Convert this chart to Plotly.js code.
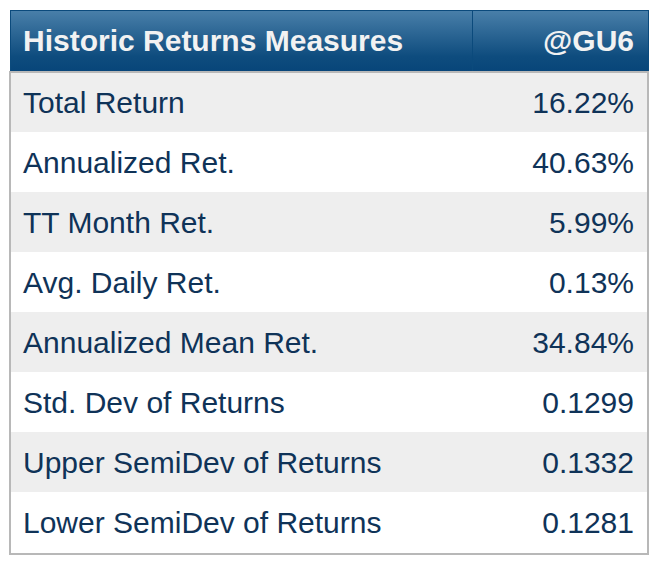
<!DOCTYPE html>
<html>
<head>
<meta charset="utf-8">
<script src="https://cdn.plot.ly/plotly-3.0.1.min.js"></script>
<style>
  html, body { margin: 0; padding: 0; background: #fff; }
  #table { width: 656px; height: 566px; }
</style>
</head>
<body>
<div id="table"></div>
<script>
// header labels
var headers = ["Historic Returns Measures", "@GU6"];

// measure names and values for @GU6
var measures = [
    "Total Return",
    "Annualized Ret.",
    "TT Month Ret.",
    "Avg. Daily Ret.",
    "Annualized Mean Ret.",
    "Std. Dev of Returns",
    "Upper SemiDev of Returns",
    "Lower SemiDev of Returns"
];
var values = ["16.22%", "40.63%", "5.99%", "0.13%", "34.84%", "0.1299", "0.1332", "0.1281"];

// alternating row fills
var rowFill = measures.map((m, i) => i % 2 == 0 ? "#eeeeee" : "#ffffff");
var blank = measures.map(() => "");

// plot area is 638 x 556 px (after margins)
var W = 638, H = 556;
var headH = 62, rowH = 60;

// gradient for the header band
var gradSvg = '<svg xmlns="http://www.w3.org/2000/svg" width="10" height="10" preserveAspectRatio="none">' +
    '<defs><linearGradient id="g" x1="0" y1="0" x2="0" y2="1">' +
    '<stop offset="0" stop-color="#4a80aa"/><stop offset="0.75" stop-color="#0e4c7e"/><stop offset="1" stop-color="#074579"/>' +
    '</linearGradient></defs><rect width="10" height="10" fill="url(#g)"/></svg>';

var font = "Liberation Sans, Arial";

// background stripes + header separator
var stripes = {
    type: "table",
    domain: { x: [0, 1], y: [0, 1] },
    columnwidth: [462, 176],
    header: {
        values: ["", ""],
        height: headH,
        fill: { color: "rgba(0,0,0,0)" },
        line: { color: "#0b4a7c", width: 1 }
    },
    cells: {
        values: [blank, blank],
        height: rowH,
        fill: { color: [rowFill, rowFill] },
        line: { width: 0, color: "rgba(0,0,0,0)" }
    }
};

// text layer, nudged so the labels sit centred in their rows
var labels = {
    type: "table",
    domain: { x: [5 / W, 1 - 6 / W], y: [0, 1 - 6 / H] },
    columnwidth: [462, 176],
    header: {
        values: headers.map(h => "<b>" + h + "</b>"),
        align: ["left", "right"],
        height: headH + 4,
        fill: { color: "rgba(0,0,0,0)" },
        line: { width: 0, color: "rgba(0,0,0,0)" },
        font: { family: font, size: 30, color: "#f2f2f2" }
    },
    cells: {
        values: [measures, values],
        align: ["left", "right"],
        height: rowH,
        fill: { color: "rgba(0,0,0,0)" },
        line: { width: 0, color: "rgba(0,0,0,0)" },
        font: { family: font, size: 30, color: "#0f3358" }
    }
};

var layout = {
    width: 656,
    height: 566,
    margin: { t: 10, b: 0, l: 10, r: 8 },
    paper_bgcolor: "#ffffff",
    images: [{
        source: "data:image/svg+xml;charset=utf-8," + encodeURIComponent(gradSvg),
        xref: "paper", yref: "paper",
        x: 0, y: 1,
        sizex: 1, sizey: headH / H,
        xanchor: "left", yanchor: "top",
        sizing: "stretch",
        layer: "below"
    }],
    shapes: [{
        type: "rect",
        xref: "paper", yref: "paper",
        x0: 0, x1: 1,
        y0: 1 - (headH + 8 * rowH + 2) / H, y1: 1 - headH / H,
        line: { color: "#b8b8b8", width: 2 }
    }]
};

Plotly.newPlot("table", [stripes, labels], layout, { displayModeBar: false, staticPlot: true });
</script>
</body>
</html>
